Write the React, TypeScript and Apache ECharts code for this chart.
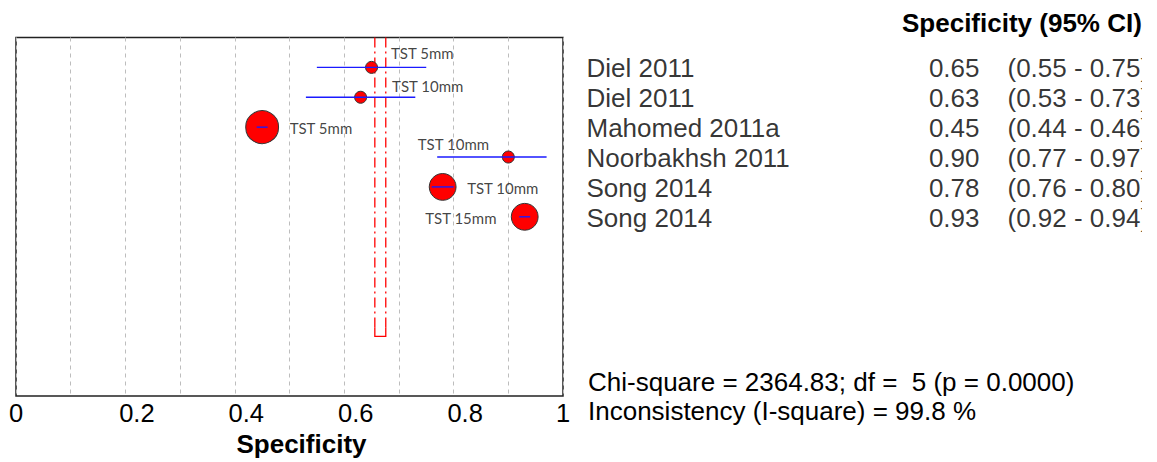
import React, { useEffect, useRef } from "react";
import * as echarts from "echarts";

// ---- data ----
const studies = ["Diel 2011", "Diel 2011", "Mahomed 2011a", "Noorbakhsh 2011", "Song 2014", "Song 2014"];
const thresholds = ["TST 5mm", "TST 10mm", "TST 5mm", "TST 10mm", "TST 10mm", "TST 15mm"];
const specificity = [0.65, 0.63, 0.45, 0.9, 0.78, 0.93];
const ciLow = [0.55, 0.53, 0.44, 0.77, 0.76, 0.92];
const ciHigh = [0.75, 0.73, 0.46, 0.97, 0.8, 0.94];
const studyWeights = [1, 1, 7.5, 1, 5, 5];
const pooledBand = [0.656, 0.676];
const tickLabels = ["0", "0.2", "0.4", "0.6", "0.8", "1"];
const statLines = [
  "Chi-square = 2364.83; df =  5 (p = 0.0000)",
  "Inconsistency (I-square) = 99.8 %",
];
const header = "Specificity (95% CI)";
const axisTitle = "Specificity";

// label placement (pixel offsets from the point centre)
const labelOffsets: number[][] = [
  [19, -14],
  [31, -11],
  [27, 1],
  [-91, -13],
  [24, 1],
  [-100, 1],
];

const FONT = "Liberation Sans";

export default function App() {
  const ref = useRef<HTMLDivElement>(null);
  useEffect(() => {
    if (!ref.current) return;
    const chart = echarts.init(ref.current, null, { renderer: "svg" });
    const rows = studies.map((_, i) => i + 1);

    const option: any = {
      animation: false,
      backgroundColor: "#fff",
      grid: [
        {
          left: 16,
          right: 594,
          top: 37.5,
          bottom: 64,
          show: true,
          borderColor: "#222",
          borderWidth: 1.5,
          backgroundColor: "transparent",
        },
        { left: 580, width: 577, top: 37.5, bottom: 64, show: false },
      ],
      xAxis: [
        {
          type: "value",
          gridIndex: 0,
          min: 0,
          max: 1,
          interval: 0.1,
          axisLine: { show: false },
          axisTick: { show: false },
          splitLine: {
            show: true,
            lineStyle: { color: "#bdbdbd", type: [4, 4], width: 1 },
          },
          axisLabel: {
            color: "#000",
            fontFamily: FONT,
            fontSize: 25.5,
            margin: 4,
            formatter: (v: number) => {
              const k = Math.round(v * 10);
              if (k % 2) return "";
              const s = tickLabels[k / 2];
              if (k === 0 || k === 10) return s;
              return "{s|" + s + "}";
            },
            rich: {
              s: { fontFamily: FONT, fontSize: 25.5, color: "#000", padding: [0, 0, 0, 23] },
            },
          },
          name: axisTitle,
          nameLocation: "middle",
          nameGap: 33,
          nameTextStyle: {
            fontFamily: FONT,
            fontSize: 26,
            fontWeight: "bold",
            color: "#000",
            padding: [0, 0, 0, 24],
          },
        },
        { type: "value", gridIndex: 1, min: 0, max: 577, show: false },
      ],
      yAxis: [
        { type: "value", gridIndex: 0, min: 0, max: 12, inverse: true, show: false, splitLine: { show: false } },
        { type: "value", gridIndex: 1, min: 0, max: 12, inverse: true, show: false, splitLine: { show: false } },
      ],
      series: [
        {
          type: "custom",
          xAxisIndex: 0,
          yAxisIndex: 0,
          z: 1,
          data: [[pooledBand[0], pooledBand[1], 0, 10]],
          renderItem: (params: any, api: any) => {
            const lo = api.value(0);
            const hi = api.value(1);
            const top = api.value(2);
            const bot = api.value(3);
            const a = api.coord([lo, top]);
            const b = api.coord([lo, bot - 0.3]);
            const c = api.coord([lo, bot]);
            const d = api.coord([hi, top]);
            const e = api.coord([hi, bot - 0.3]);
            const f = api.coord([hi, bot]);
            const dash = { stroke: "#ff0000", lineWidth: 1.3, lineDash: [10, 4, 2, 4] };
            const solid = { stroke: "#ff0000", lineWidth: 1.3, fill: "none" };
            return {
              type: "group",
              children: [
                { type: "line", shape: { x1: a[0], y1: a[1], x2: b[0], y2: b[1] }, style: dash },
                { type: "line", shape: { x1: d[0], y1: d[1], x2: e[0], y2: e[1] }, style: dash },
                {
                  type: "polyline",
                  shape: { points: [b, c, f, e] },
                  style: solid,
                },
              ],
            };
          },
        },
        {
          type: "scatter",
          xAxisIndex: 0,
          yAxisIndex: 0,
          z: 2,
          symbol: "circle",
          symbolSize: (_v: any, p: any) => 12 * Math.sqrt(studyWeights[p.dataIndex]),
          itemStyle: { color: "#ff0000", borderColor: "#333", borderWidth: 1, opacity: 1 },
          data: specificity.map((s, i) => [s, rows[i]]),
        },
        {
          type: "custom",
          xAxisIndex: 0,
          yAxisIndex: 0,
          z: 3,
          data: specificity.map((_, i) => [ciLow[i], ciHigh[i], rows[i]]),
          renderItem: (params: any, api: any) => {
            const p1 = api.coord([api.value(0), api.value(2)]);
            const p2 = api.coord([api.value(1), api.value(2)]);
            return {
              type: "line",
              shape: { x1: p1[0], y1: p1[1], x2: p2[0], y2: p2[1] },
              style: { stroke: "#1a1aff", lineWidth: 1.4 },
            };
          },
        },
        {
          type: "scatter",
          xAxisIndex: 0,
          yAxisIndex: 0,
          z: 4,
          symbolSize: 1,
          itemStyle: { color: "rgba(0,0,0,0)" },
          data: specificity.map((s, i) => ({
            value: [s, rows[i]],
            label: { offset: labelOffsets[i] },
          })),
          label: {
            show: true,
            position: "right",
            distance: 0,
            fontFamily: "Lato",
            fontSize: 15,
            color: "#111",
            formatter: (p: any) => thresholds[p.dataIndex],
          },
        },
        // table columns
        {
          type: "scatter",
          xAxisIndex: 1,
          yAxisIndex: 1,
          symbolSize: 1,
          itemStyle: { color: "rgba(0,0,0,0)" },
          data: studies.map((_, i) => [6, rows[i]]),
          label: {
            show: true,
            position: "right",
            distance: 0,
            fontFamily: FONT,
            fontSize: 26,
            color: "#000",
            formatter: (p: any) => studies[p.dataIndex],
          },
        },
        {
          type: "scatter",
          xAxisIndex: 1,
          yAxisIndex: 1,
          symbolSize: 1,
          itemStyle: { color: "rgba(0,0,0,0)" },
          data: studies.map((_, i) => [400, rows[i]]),
          label: {
            show: true,
            position: "left",
            distance: 0,
            fontFamily: FONT,
            fontSize: 26,
            color: "#000",
            formatter: (p: any) => specificity[p.dataIndex].toFixed(2),
          },
        },
        {
          type: "scatter",
          xAxisIndex: 1,
          yAxisIndex: 1,
          symbolSize: 1,
          itemStyle: { color: "rgba(0,0,0,0)" },
          data: studies.map((_, i) => [427, rows[i]]),
          label: {
            show: true,
            position: "right",
            distance: 0,
            fontFamily: FONT,
            fontSize: 26,
            color: "#000",
            formatter: (p: any) =>
              "(" + ciLow[p.dataIndex].toFixed(2) + " - " + ciHigh[p.dataIndex].toFixed(2) + ")",
          },
        },
      ],
      graphic: [
        {
          type: "text",
          left: 902,
          top: 10,
          style: { text: header, fontFamily: FONT, fontSize: 26, fontWeight: "bold", fill: "#000" },
        },
        {
          type: "text",
          left: 588,
          top: 369,
          style: { text: statLines[0], fontFamily: FONT, fontSize: 26, fill: "#000" },
        },
        {
          type: "text",
          left: 588,
          top: 398,
          style: { text: statLines[1], fontFamily: FONT, fontSize: 26, fill: "#000" },
        },
        {
          type: "rect",
          z: 100,
          shape: { x: 1142, y: 48, width: 20, height: 185 },
          style: { fill: "#fff" },
        },
      ],
    };
    chart.setOption(option);
    return () => chart.dispose();
  }, []);
  return (
    <div
      ref={ref}
      style={{ position: "fixed", left: 0, top: 0, width: 1157, height: 462 }}
    />
  );
}
